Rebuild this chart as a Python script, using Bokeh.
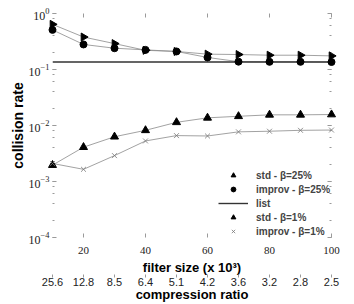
from bokeh.plotting import figure
from bokeh.models import (Range1d, LogAxis, LinearAxis, FixedTicker, Legend, LegendItem,
                          LogTicker, LogTickFormatter)
from bokeh.embed import file_html
from bokeh.resources import INLINE
import math

filter_size = [10, 20, 30, 40, 50, 60, 70, 80, 90, 100]
compression = ["25.6", "12.8", "8.5", "6.4", "5.1", "4.2", "3.6", "3.2", "2.8", "2.5"]
std_25 = [0.64, 0.38, 0.29, 0.22, 0.21, 0.188, 0.185, 0.18, 0.18, 0.175]
improv_25 = [0.51, 0.28, 0.24, 0.224, 0.21, 0.164, 0.138, 0.137, 0.137, 0.136]
list_rate = [0.136, 0.136, 0.136, 0.136, 0.136, 0.136, 0.136, 0.136, 0.136, 0.136]
std_1 = [0.00196, 0.0041, 0.0063, 0.0082, 0.0114, 0.0137, 0.0146, 0.0155, 0.0155, 0.0157]
improv_1 = [0.0021, 0.00165, 0.0029, 0.0053, 0.0066, 0.0065, 0.0077, 0.0079, 0.0082, 0.0083]
x_ticks = [20, 40, 60, 80, 100]

SERIF = "Liberation Serif"
SANS = "Liberation Sans"
TICK = "#9a9a9a"
LINE = "#8a8a8a"

p = figure(width=354, height=304, x_range=Range1d(10, 100), y_range=Range1d(1e-4, 1),
           y_axis_type="log", output_backend="svg", toolbar_location=None,
           min_border_left=52, min_border_right=23, min_border_top=13, min_border_bottom=64)
p.outline_line_color = None
p.xgrid.visible = False
p.ygrid.visible = False

# data
p.line(filter_size, std_25, line_color=LINE, line_width=0.8)
p.line(filter_size, improv_25, line_color=LINE, line_width=0.8)
r_list = p.line(filter_size, list_rate, line_color="#333333", line_width=1.4)
p.line(filter_size, std_1, line_color=LINE, line_width=0.8)
p.line(filter_size, improv_1, line_color=LINE, line_width=0.8)

r_s25 = p.scatter(filter_size, std_25, marker="triangle", angle=-math.pi / 2, size=8,
                  fill_color="black", line_color="black", level="overlay")
r_i25 = p.scatter(filter_size, improv_25, marker="circle", size=7,
                  fill_color="black", line_color="black", level="overlay")
r_s1 = p.scatter(filter_size, std_1, marker="triangle", size=8,
                 fill_color="black", line_color="black", level="overlay")
r_i1 = p.scatter(filter_size, improv_1, marker="x", size=7,
                 line_color="#777777", line_width=0.8, level="overlay")

def style_axis(ax):
    ax.axis_line_color = None
    ax.major_tick_line_color = TICK
    ax.minor_tick_line_color = TICK
    ax.major_tick_in = 4
    ax.major_tick_out = 0
    ax.minor_tick_in = 2
    ax.minor_tick_out = 0
    ax.major_label_text_font = SERIF
    ax.major_label_text_font_size = "12px"
    ax.major_label_text_color = "#222222"
    ax.axis_label_text_font = SANS
    ax.axis_label_text_font_style = "bold"
    ax.axis_label_text_font_size = "13px"
    ax.axis_label_text_color = "black"

# left axis
ya = p.yaxis[0]
style_axis(ya)
ya.ticker = LogTicker(desired_num_ticks=5)
ya.formatter = LogTickFormatter()
ya.axis_label = "collision rate"
ya.axis_label_text_font_size = "14px"
ya.major_label_standoff = 3
ya.axis_label_standoff = 0

# bottom axis
xa = p.xaxis[0]
style_axis(xa)
xa.ticker = FixedTicker(ticks=x_ticks)
xa.axis_label = "filter size (x 10³)"
xa.major_label_text_font_size = "11px"
xa.major_label_standoff = 9
xa.axis_label_standoff = 3

# second bottom axis: compression ratio
ca = LinearAxis(ticker=FixedTicker(ticks=filter_size),
                major_label_overrides={x: c for x, c in zip(filter_size, compression)})
style_axis(ca)
ca.major_tick_in = 3
ca.major_tick_out = 0
ca.major_label_text_font = SANS
ca.major_label_text_font_size = "11px"
ca.major_label_standoff = 0
ca.axis_label = "compression ratio"
ca.axis_label_standoff = -2
p.add_layout(ca, "below")

# top and right mirror axes
ta = LinearAxis(ticker=FixedTicker(ticks=x_ticks))
style_axis(ta)
ta.major_label_text_font_size = "0px"
ta.major_label_text_alpha = 0
ta.major_label_standoff = 0
p.add_layout(ta, "above")

ra = LogAxis(ticker=LogTicker(desired_num_ticks=5))
style_axis(ra)
ra.major_label_text_alpha = 0
ra.major_label_text_font_size = "0px"
ra.major_label_standoff = 0
p.add_layout(ra, "right")

legend = Legend(items=[
    LegendItem(label="std - β=25%", renderers=[r_s25]),
    LegendItem(label="improv - β=25%", renderers=[r_i25]),
    LegendItem(label="list", renderers=[r_list]),
    LegendItem(label="std - β=1%", renderers=[r_s1]),
    LegendItem(label="improv - β=1%", renderers=[r_i1]),
], location=(166, 0))
legend.background_fill_alpha = 0
legend.border_line_color = None
legend.label_text_font = SANS
legend.label_text_font_style = "bold"
legend.label_text_font_size = "10px"
legend.label_height = 12
legend.glyph_height = 12
legend.glyph_width = 30
legend.spacing = 2
legend.padding = 0
legend.margin = 0
legend.label_standoff = 8
p.add_layout(legend)

open("out.html", "w").write(file_html(p, INLINE))
